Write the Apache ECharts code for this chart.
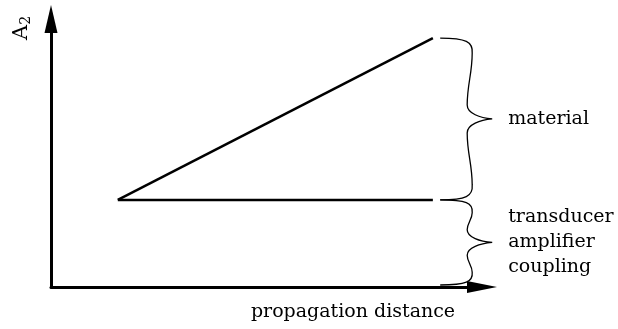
<!DOCTYPE html>
<html>
<head>
<meta charset="utf-8">
<script src="https://cdn.jsdelivr.net/npm/echarts@6/dist/echarts.min.js"></script>
<style>
html,body{margin:0;padding:0;background:#fff;}
#c{width:618px;height:329px;}
</style>
</head>
<body>
<div id="c"></div>
<script>
// ---- data ----
const lineStart = [15.5, 32.5];
const materialEnd = [88.6, 92.9];
const baseEnd = [88.6, 32.5];
const braceX = 90.3;
const braceSpans = [[32.5, 92.9], [0.75, 32.5]];
const braceLabels = ['material', 'transducer\namplifier\ncoupling'];
const xAxisTitle = 'propagation distance';
const yAxisTitle = 'A';
const yAxisSub = '2';

const FONT = '"DejaVu Serif", serif';

const chart = echarts.init(document.getElementById('c'), null, {renderer: 'canvas'});

function braceRender(params, api) {
  const p0 = api.coord([api.value(0), api.value(2)]); // top
  const p1 = api.coord([api.value(0), api.value(1)]); // bottom
  const x0 = p0[0];
  const yT = p0[1], yB = p1[1];
  const yM = (yT + yB) / 2;
  const h = yM - yT;
  const k = Math.min(15, h * 0.3);
  const m = Math.min(14, h * 0.3);
  const a = 32, b = 27, t = 52;
  const s = (h - k - m) * 0.4;
  const d = [
    'M', x0, yT,
    'C', x0 + 26, yT, x0 + a + 1, yT + k * 0.25, x0 + a, yT + k,
    'C', x0 + a, yT + k + s, x0 + b, yM - m - s, x0 + b, yM - m,
    'C', x0 + b, yM - m * 0.4, x0 + 40, yM - 1, x0 + t, yM,
    'C', x0 + 40, yM + 1, x0 + b, yM + m * 0.4, x0 + b, yM + m,
    'C', x0 + b, yM + m + s, x0 + a, yB - k - s, x0 + a, yB - k,
    'C', x0 + a + 1, yB - k * 0.25, x0 + 26, yB, x0, yB
  ].join(' ');
  const label = braceLabels[params.dataIndex];
  return {
    type: 'group',
    children: [
      {type: 'path', shape: {pathData: d}, style: {fill: 'none', stroke: '#000', lineWidth: 1.3}},
      {type: 'text', x: x0 + 68, y: yM,
       style: {text: label, fill: '#000', font: '19px ' + FONT, align: 'left', verticalAlign: 'middle', lineHeight: 25}}
    ]
  };
}

const option = {
  animation: false,
  backgroundColor: '#fff',
  grid: {left: 51, right: 136, top: 19, bottom: 42},
  xAxis: {
    type: 'value', min: 0, max: 100,
    splitLine: {show: false}, axisTick: {show: false}, axisLabel: {show: false},
    axisLine: {show: true, lineStyle: {color: '#000', width: 3}, symbol: ['none', 'triangle'], symbolSize: [12, 30]}
  },
  yAxis: {
    type: 'value', min: 0, max: 100,
    splitLine: {show: false}, axisTick: {show: false}, axisLabel: {show: false},
    axisLine: {show: true, lineStyle: {color: '#000', width: 3}, symbol: ['none', 'triangle'], symbolSize: [13, 28]}
  },
  graphic: [
    {type: 'text', x: 353, y: 312,
     style: {text: xAxisTitle, fill: '#000', font: '19px ' + FONT, align: 'center', verticalAlign: 'middle'}},
    {type: 'text', x: 22, y: 28, rotation: Math.PI / 2,
     style: {text: yAxisTitle + '{s|' + yAxisSub + '}', fill: '#000', font: '21px ' + FONT, align: 'center', verticalAlign: 'middle',
       rich: {s: {font: '14px ' + FONT, fill: '#000', padding: [9, 0, 0, 0]}}}}
  ],
  series: [
    {type: 'line', data: [lineStart, materialEnd], symbol: 'none', lineStyle: {color: '#000', width: 2.5}},
    {type: 'line', data: [lineStart, baseEnd], symbol: 'none', lineStyle: {color: '#000', width: 2.5}},
    {type: 'custom', coordinateSystem: 'cartesian2d', clip: false,
     data: braceSpans.map(s => [braceX, s[0], s[1]]),
     renderItem: braceRender}
  ]
};
chart.setOption(option);
</script>
</body>
</html>
